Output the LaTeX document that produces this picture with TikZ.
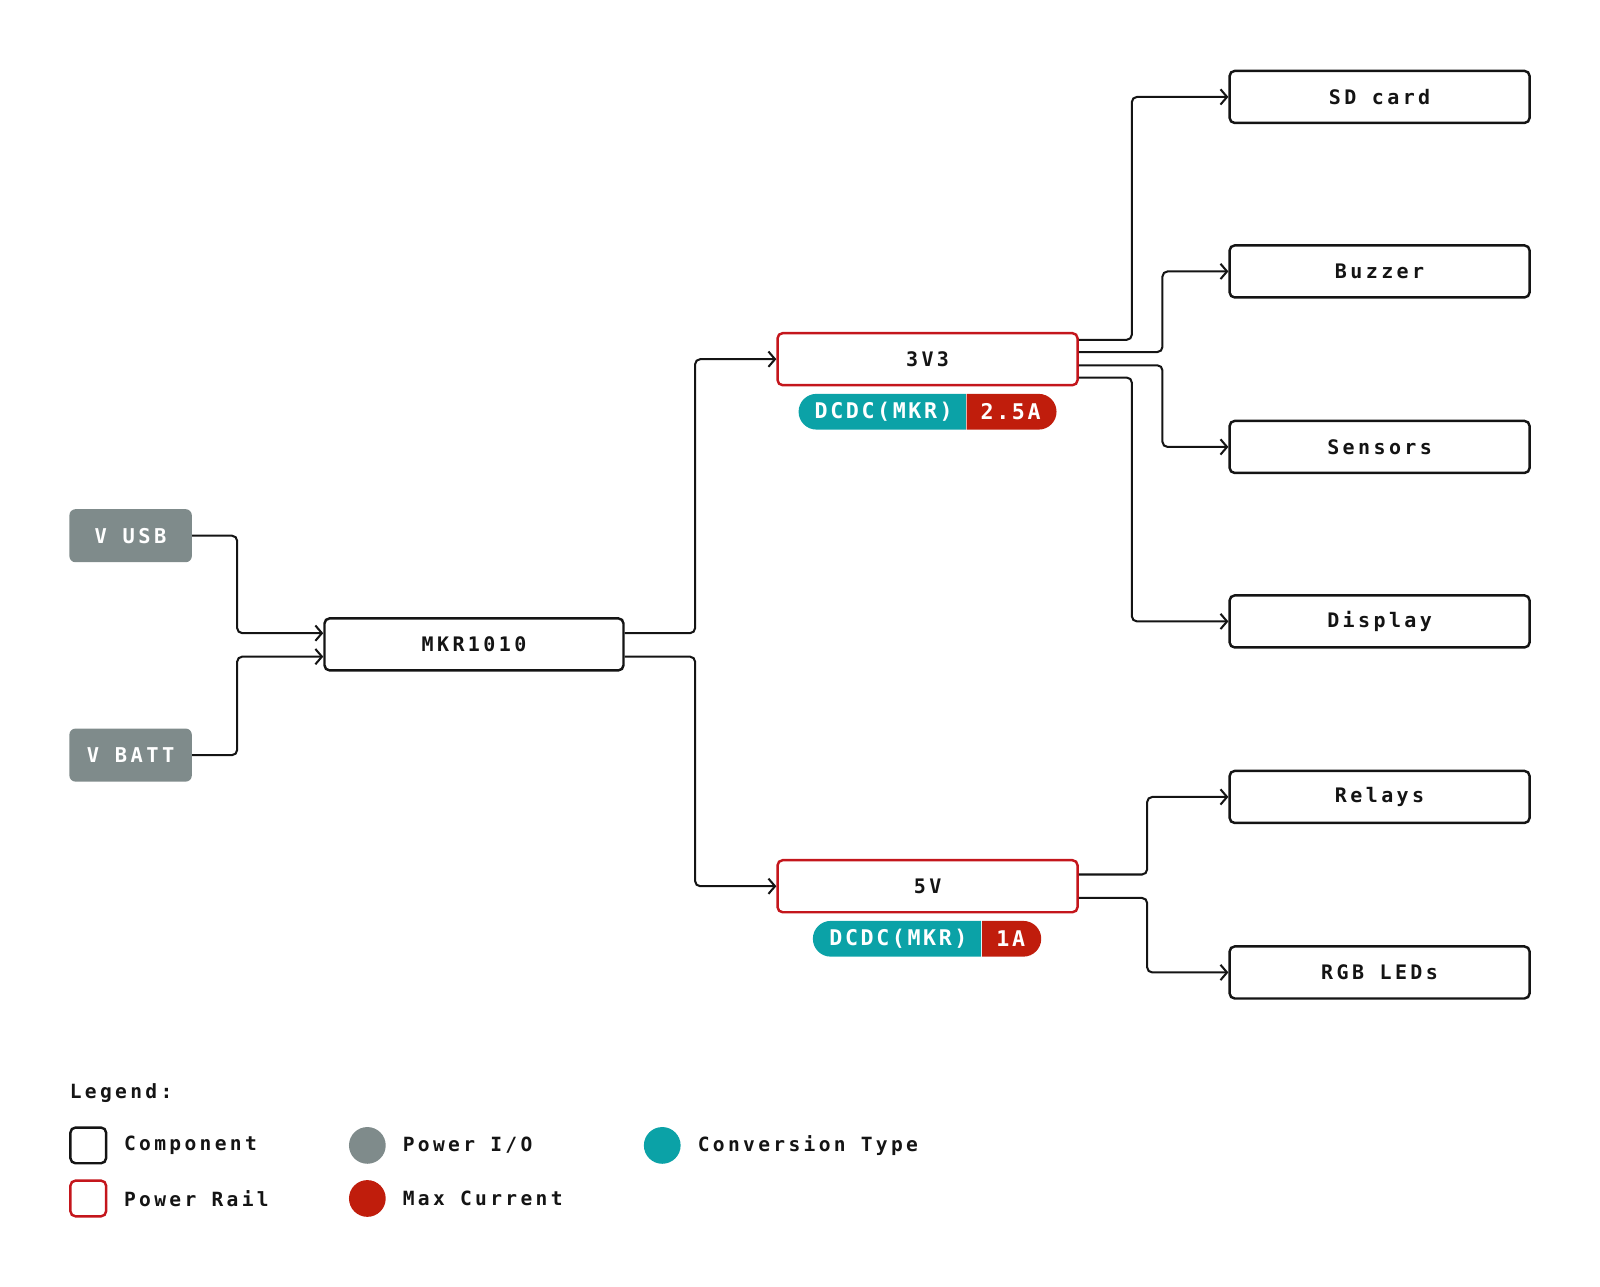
\documentclass[tikz,border=0pt]{standalone}
\usepackage{fontspec}
\newfontfamily\diagfont{DejaVu Sans Mono}[LetterSpace=17]
\newfontfamily\tagfont{DejaVu Sans Mono}[LetterSpace=12]
\usetikzlibrary{positioning,calc,shapes.misc,arrows.meta}
\definecolor{ioGray}{RGB}{127,139,139}
\definecolor{convTeal}{RGB}{11,162,167}
\definecolor{maxRed}{RGB}{192,29,12}
\definecolor{railRed}{RGB}{196,22,28}
\definecolor{inkBlack}{RGB}{20,20,20}

\begin{document}
\begin{tikzpicture}[x=0.5pt,y=-0.5pt]
\tikzset{block/.style = {draw=inkBlack, line width=1.2pt, rounded corners=2.5pt, minimum width=147pt, minimum height=25.5pt, text=inkBlack, font={\diagfont\bfseries\fontsize{9.8}{11}\selectfont}}}
\tikzset{rail/.style = {block, draw=railRed}}
\tikzset{io/.style = {fill=ioGray, rounded corners=3pt, minimum width=60pt, minimum height=26pt, text=white, font={\diagfont\bfseries\fontsize{10}{11}\selectfont}}}
\tikzset{conv/.style = {shape=rounded rectangle, rounded rectangle east arc=none, fill=convTeal, minimum height=17.5pt, inner xsep=0pt, inner ysep=0pt, text=white, font={\tagfont\bfseries\fontsize{10.6}{12}\selectfont}}}
\tikzset{maxc/.style = {conv, rounded rectangle east arc=convex, rounded rectangle west arc=none, fill=maxRed}}
\tikzset{wire/.style = {-{Straight Barb[length=3.2pt,width=7.5pt]}, line width=1pt, rounded corners=2.5pt, inkBlack}}
\tikzset{keybox/.style = {line width=1.2pt, rounded corners=2.5pt, minimum size=17.5pt, inner sep=0pt}}
\tikzset{keydot/.style = {circle, minimum size=18pt, inner sep=0pt}}
\tikzset{keytext/.style = {inner sep=0pt, text=inkBlack, font={\diagfont\bfseries\fontsize{9.6}{11}\selectfont}}}
\useasboundingbox (0,0) rectangle (1568,1261);
% loads
\node[block] (sd) at (1352,95) {SD card};
\node[block] (buzzer) at (1352,266) {Buzzer};
\node[block] (sensors) at (1352,438) {Sensors};
\node[block] (display) at (1352,609) {Display};
\node[block] (relays) at (1352,781) {Relays};
\node[block] (leds) at (1352,953) {RGB LEDs};
% rails
\node[rail] (v33) at (909,352) {3V3};
\node[rail] (v5) at (909,868.5) {5V};
\node[conv, minimum width=82pt, anchor=east] (conv33) at (947,403.5) {DCDC(MKR)};
\node[maxc, minimum width=44pt, right=0pt of conv33] (max33) {2.5A};
\node[conv, minimum width=82.5pt, anchor=east] (conv5) at (962,920) {DCDC(MKR)};
\node[maxc, minimum width=29pt, right=0pt of conv5] (max5) {1A};
% board and inputs
\node[block, minimum width=146.5pt] (mkr) at (464.5,631.5) {MKR1010};
\node[io] (vusb) at (128,525) {V USB};
\node[io] (vbatt) at (128,740) {V BATT};
\draw[wire] (vusb.east) -- ++(44,0) |- ($(mkr.west)+(0,-11)$);
\draw[wire] (vbatt.east) -- ++(44,0) |- ($(mkr.west)+(0,12)$);
\draw[wire] ($(mkr.east)+(0,-11)$) -- ++(69,0) |- (v33.west);
\draw[wire] ($(mkr.east)+(0,12)$) -- ++(69,0) |- (v5.west);
\draw[wire] ($(v33.east)+(0,-19)$) -- ++(52,0) |- (sd.west);
\draw[wire] ($(v33.east)+(0,-7)$) -- ++(82,0) |- (buzzer.west);
\draw[wire] ($(v33.east)+(0,6)$) -- ++(82,0) |- (sensors.west);
\draw[wire] ($(v33.east)+(0,18)$) -- ++(52,0) |- (display.west);
\draw[wire] ($(v5.east)+(0,-11.5)$) -- ++(67,0) |- (relays.west);
\draw[wire] ($(v5.east)+(0,11.5)$) -- ++(67,0) |- (leds.west);
% legend
\node[keytext, anchor=west] (legend) at (68,1071) {Legend:};
\node[keybox, draw=inkBlack] (kcomp) at (86.5,1122.5) {};
\node[keytext, right=8pt of kcomp] (tcomp) {Component};
\node[keybox, draw=railRed] (krail) at (86.5,1174.5) {};
\node[keytext, right=8pt of krail] (trail) {Power Rail};
\node[keydot, fill=ioGray] (kio) at (360,1122.5) {};
\node[keytext, right=8pt of kio] (tio) {Power I/O};
\node[keydot, fill=maxRed] (kmax) at (360,1174.5) {};
\node[keytext, right=8pt of kmax] (tmax) {Max Current};
\node[keydot, fill=convTeal] (kconv) at (649,1122.5) {};
\node[keytext, right=8pt of kconv] (tconv) {Conversion Type};
\end{tikzpicture}
\end{document}
